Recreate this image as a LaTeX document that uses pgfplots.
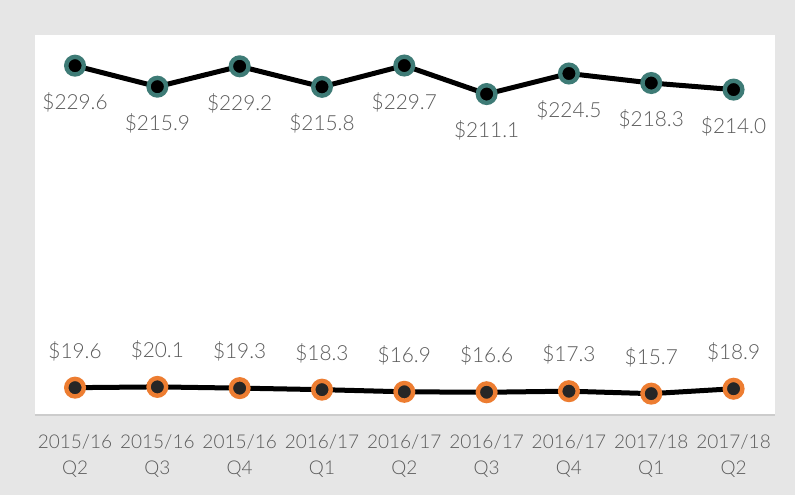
\documentclass[border=0pt]{standalone}
\usepackage{pgfplots}
\pgfplotsset{compat=1.18}
\usepackage{fontspec}
\setmainfont{Lato Light}
\definecolor{bg}{HTML}{E6E6E6}
\definecolor{tealc}{HTML}{3E7B76}
\definecolor{orangec}{HTML}{ED7D31}
\definecolor{txt}{HTML}{5A5A5A}
\begin{document}
\begin{tikzpicture}
\fill[bg] (0,0) rectangle (397.5pt,247.5pt);
\begin{axis}[
  at={(17.35pt,40pt)}, anchor=south west,
  scale only axis, width=370pt, height=190.15pt,
  xmin=-0.49, xmax=8.50, ymin=1.76, ymax=249.8,
  axis background/.style={fill=white},
  axis x line*=bottom, axis y line=none,
  x axis line style={draw=black!20, line width=1pt, -},
  xtick=data, xtick style={draw=none},
  xticklabels={{2015/16\\Q2},{2015/16\\Q3},{2015/16\\Q4},{2016/17\\Q1},{2016/17\\Q2},{2016/17\\Q3},{2016/17\\Q4},{2017/18\\Q1},{2017/18\\Q2}},
  xticklabel style={align=center, font=\fontsize{9.5}{13}\selectfont, text=txt, yshift=-6.5pt},
  ytick=\empty,
  clip=false,
  /pgf/number format/assume math mode=true,
  nodes near coords={\$\pgfmathprintnumber[fixed,fixed zerofill,precision=1]{\pgfplotspointmeta}},
  nodes near coords style={font=\fontsize{10.4}{12}\selectfont, text=txt, anchor=center},
]
\addplot[black, line width=2.5pt, mark=*, mark size=4.4pt,
  mark options={fill=black, draw=tealc, line width=2.2pt},
  nodes near coords style={yshift=-18.4pt}]
  coordinates {(0,229.6) (1,215.9) (2,229.2) (3,215.8) (4,229.7) (5,211.1) (6,224.5) (7,218.3) (8,214.0)};
\addplot[black, line width=2.5pt, mark=*, mark size=4.4pt,
  mark options={fill=black!85, draw=orangec, line width=2.2pt},
  nodes near coords style={yshift=18.2pt}]
  coordinates {(0,19.6) (1,20.1) (2,19.3) (3,18.3) (4,16.9) (5,16.6) (6,17.3) (7,15.7) (8,18.9)};
\end{axis}
\end{tikzpicture}
\end{document}
